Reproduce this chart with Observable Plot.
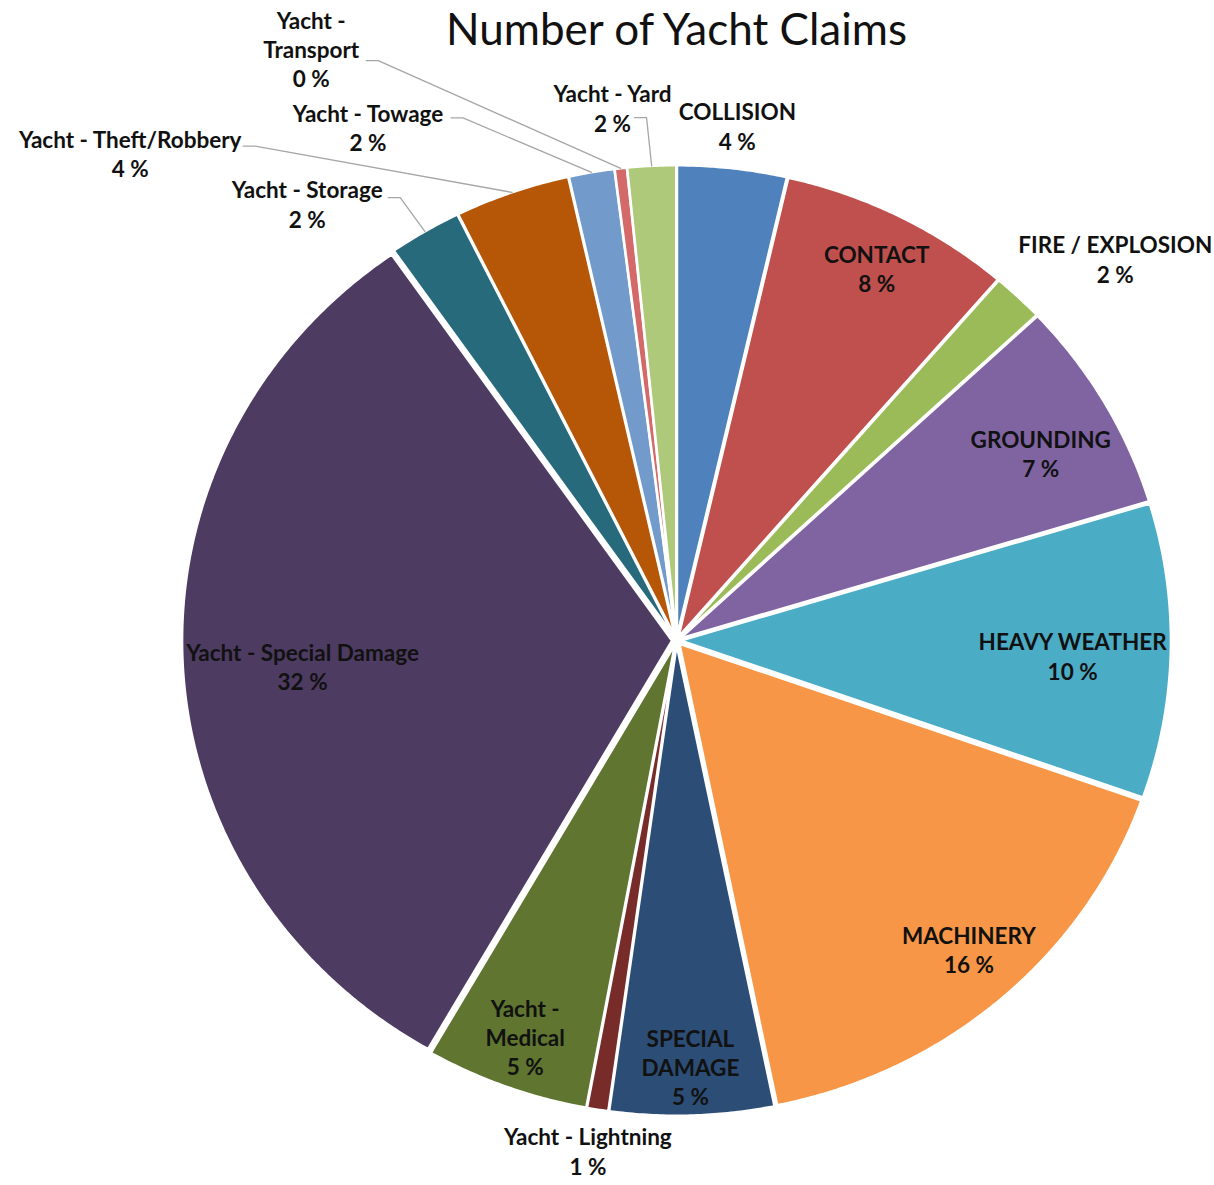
<!DOCTYPE html>
<html><head><meta charset="utf-8">
<script src="https://cdn.jsdelivr.net/npm/d3@7"></script>
<script src="https://cdn.jsdelivr.net/npm/@observablehq/plot@0.6"></script>
<style>
html,body{margin:0;padding:0;background:#fff;}
#chart{width:1214px;height:1185px;overflow:hidden;}
</style></head><body><div id="chart"></div>
<script>
// ---------- data ----------
const title = "Number of Yacht Claims";
const categories = ["COLLISION","CONTACT","FIRE / EXPLOSION","GROUNDING","HEAVY WEATHER","MACHINERY","SPECIAL DAMAGE","Yacht - Lightning","Yacht - Medical","Yacht - Special Damage","Yacht - Storage","Yacht - Theft/Robbery","Yacht - Towage","Yacht - Transport","Yacht - Yard"];
const shares = [3.6,7.7,1.7,7.3,10.1,16.4,5.4,0.7,5.4,32.0,2.4,3.8,1.5,0.4,1.6];
const colors = ["#4F81BD","#C0504D","#9BBB59","#8064A2","#4BACC6","#F79646","#2C4D75","#772C2A","#5F7530","#4D3B62","#276A7C","#B65708","#729ACA","#D4696A","#AFC97A"];

// ---------- layout ----------
const W = 1214, H = 1185, CX = 676, CY = 640, RX = 490, RY = 471;
const EXPLODE = 0.009;
const labelLayout = {
  "COLLISION":              {r:1.10, a:0},
  "CONTACT":                {r:0.89, a:0.5},
  "FIRE / EXPLOSION":       {r:1.208, a:4.1},
  "GROUNDING":              {r:0.843, a:1.9},
  "HEAVY WEATHER":          {r:0.809, a:1.0},
  "MACHINERY":              {r:0.886, a:-1.3},
  "SPECIAL DAMAGE":         {r:0.905, a:0, text:"SPECIAL\nDAMAGE"},
  "Yacht - Lightning":      {r:1.098, a:0.3},
  "Yacht - Medical":        {r:0.896, a:0, text:"Yacht -\nMedical"},
  "Yacht - Special Damage": {r:0.765, a:-1.5},
  "Yacht - Storage":        {r:1.195, a:-8.5, leader:[81,-6]},
  "Yacht - Theft/Robbery":  {r:1.521, a:-27.7, leader:[113,-7]},
  "Yacht - Towage":         {r:1.259, a:-20.1, leader:[83,-9]},
  "Yacht - Transport":      {r:1.461, a:-24.2, leader:[55,12], text:"Yacht -\nTransport"},
  "Yacht - Yard":           {r:1.139, a:-3.7, leader:[22,10]}
};

// ---------- geometry from data ----------
const total = d3.sum(shares);
const rad = d => d * Math.PI / 180;
let cum = 0;
const slices = categories.map((name, i) => {
  const a0 = cum / total * 360;
  cum += shares[i];
  const a1 = cum / total * 360;
  return {name, value: shares[i], a0, a1, mid: (a0 + a1) / 2};
});

const pts = [];
for (const s of slices) {
  const ox = EXPLODE * Math.sin(rad(s.mid)), oy = EXPLODE * Math.cos(rad(s.mid));
  pts.push({name: s.name, x: ox, y: oy});
  const n = Math.max(2, Math.ceil((s.a1 - s.a0) / 0.4));
  for (let k = 0; k <= n; k++) {
    const t = rad(s.a0 + (s.a1 - s.a0) * k / n);
    pts.push({name: s.name, x: ox + Math.sin(t), y: oy + Math.cos(t)});
  }
  pts.push({name: s.name, x: ox, y: oy});
}

const labels = slices.map(s => {
  const L = labelLayout[s.name];
  const t = rad(s.mid + L.a);
  return {name: s.name, x: L.r * Math.sin(t), y: L.r * Math.cos(t),
          text: (L.text || s.name) + "\n" + Math.round(s.value / total * 100) + " %"};
});

const leaders = [];
for (const s of slices) {
  const L = labelLayout[s.name];
  if (!L.leader) continue;
  const lb = labels.find(d => d.name === s.name);
  const sx = lb.x + L.leader[0] / RX, sy = lb.y - L.leader[1] / RY;
  const ex = (1 + EXPLODE) * Math.sin(rad(s.mid)), ey = (1 + EXPLODE) * Math.cos(rad(s.mid));
  leaders.push({name: s.name, x: sx, y: sy});
  leaders.push({name: s.name, x: sx + 12 / RX, y: sy});
  leaders.push({name: s.name, x: ex, y: ey});
}

const chart = Plot.plot({
  width: W, height: H, margin: 0,
  style: {fontFamily: "Lato, 'Open Sans', sans-serif", background: "#fff", overflow: "visible"},
  x: {domain: [-1, 1], range: [CX - RX, CX + RX], axis: null},
  y: {domain: [-1, 1], range: [CY + RY, CY - RY], axis: null},
  color: {domain: categories, range: colors},
  marks: [
    Plot.line(pts, {x: "x", y: "y", z: "name", fill: "name", stroke: "#fff", strokeWidth: 2.5, strokeLinejoin: "round", curve: "linear"}),
    Plot.line(leaders, {x: "x", y: "y", z: "name", stroke: "#A6A6A6", strokeWidth: 1.3, curve: "linear"}),
    Plot.text(labels, {x: "x", y: "y", text: "text", fontSize: 22.5, fontWeight: "bold", fill: "#111", lineHeight: 1.3, lineAnchor: "middle", textAnchor: "middle"}),
    Plot.text([title], {frameAnchor: "top", dx: CX - W / 2, dy: 30, lineAnchor: "middle", fontSize: 44, fill: "#111", fontWeight: "normal"})
  ]
});
document.getElementById("chart").appendChild(chart);
</script>
</body></html>
